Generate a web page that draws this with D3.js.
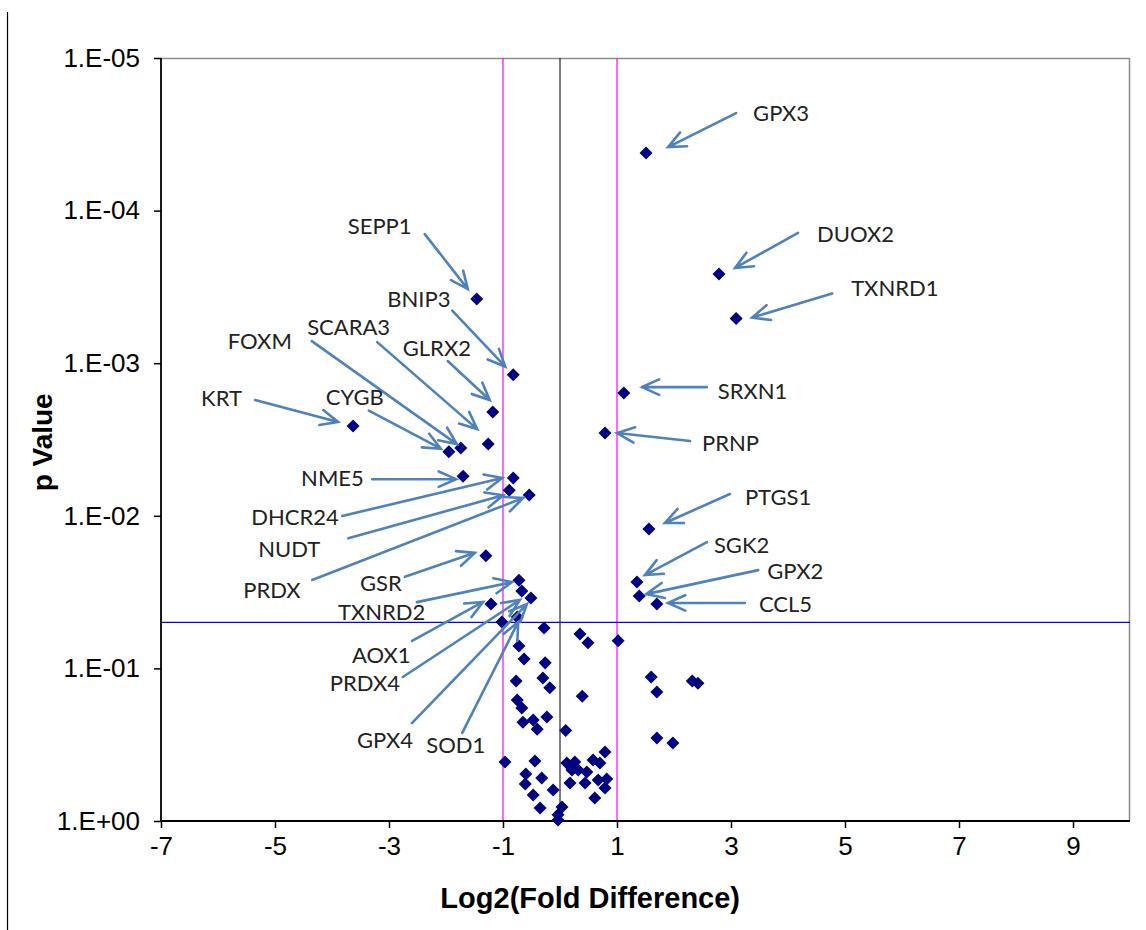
<!DOCTYPE html>
<html>
<head>
<meta charset="utf-8">
<script src="https://cdn.jsdelivr.net/npm/d3@7"></script>
<style>
  body { margin: 0; background: #fff; }
  svg { display: block; }
</style>
</head>
<body>
<svg id="viz"></svg>
<script>
// labelled genes: log2 fold difference and p value
const genes = ['GPX3', 'DUOX2', 'TXNRD1', 'SEPP1', 'BNIP3', 'SRXN1', 'PRNP', 'GLRX2', 'SCARA3',
  'FOXM', 'CYGB', 'KRT', 'NME5', 'DHCR24', 'NUDT', 'PRDX', 'GSR', 'TXNRD2', 'PRDX4', 'GPX4',
  'AOX1', 'SOD1', 'PTGS1', 'SGK2', 'GPX2', 'CCL5'];
const geneFC = [1.51, 2.79, 3.09, -1.46, -0.82, 1.12, 0.79, -1.18, -1.26,
  -1.74, -1.95, -3.63, -1.70, -0.82, -0.89, -0.54, -1.30, -0.72, -0.67, -0.51,
  -1.21, -0.75, 1.56, 1.35, 1.39, 1.70];
const geneP = [4.2e-5, 2.6e-4, 5.1e-4, 3.8e-4, 1.19e-3, 1.57e-3, 2.87e-3, 2.09e-3, 3.39e-3,
  3.6e-3, 3.8e-3, 2.58e-3, 5.5e-3, 5.65e-3, 6.8e-3, 7.3e-3, 0.0183, 0.0264, 0.0311, 0.0346,
  0.0378, 0.046, 0.0122, 0.0272, 0.0336, 0.0378];

// the other genes (not labelled)
const otherFC = [-1.02, -0.28, 0.35, 0.49, 1.02, -0.72, -0.63, -0.26, -0.30, -0.77, -0.18, 0.39,
  -0.75, -0.67, -0.23, -0.65, -0.47, -0.40, 0.10, -0.965, -0.44, -0.60, -0.61, -0.32, -0.47,
  -0.12, -0.35, 0.035, -0.035, -0.035, 0.12, 0.26, 0.21, 0.32, 0.175, 0.47, 0.58, 0.70, 0.79,
  0.44, 0.67, 0.82, 0.79, 0.61, 1.60, 1.70, 2.32, 2.42, 1.70, 1.98];
const otherP = [0.0497, 0.0543, 0.0595, 0.068, 0.066, 0.0713, 0.0868, 0.092, 0.1156, 0.121, 0.134, 0.152,
  0.161, 0.182, 0.208, 0.225, 0.218, 0.25, 0.255, 0.41, 0.405, 0.492, 0.572, 0.523, 0.676,
  0.626, 0.822, 0.81, 0.91, 0.985, 0.417, 0.41, 0.463, 0.463, 0.564, 0.477, 0.398, 0.417, 0.353,
  0.564, 0.539, 0.53, 0.608, 0.707, 0.114, 0.143, 0.121, 0.125, 0.286, 0.308];

const xTicks = [-7, -5, -3, -1, 1, 3, 5, 7, 9];
const yTicks = [1, 0.1, 0.01, 0.001, 0.0001, 0.00001];
const yTickLabels = ['1.E+00', '1.E-01', '1.E-02', '1.E-03', '1.E-04', '1.E-05'];
const pCutoff = 0.05;
const fcCutoffs = [-1, 1];

// label placement, pixel offsets from the gene's point: [text dx, dy, arrow start dx, dy, arrow tip dx, dy]
const labelOffsets = [
  [107, -40, 90, -40, 22, -6],
  [98, -40, 79, -41, 16, -6],
  [115, -30, 96, -25, 16, -1],
  [-129, -73, -52, -65, -9, -10],
  [-126, -76, -61, -64, -8, -8],
  [94, -2, 83, -6, 18, -6],
  [97, 10, 85, 8, 12, 0],
  [-90, -64, -45, -51, -3, -12],
  [-181, -117, -111, -102, -11, -15],
  [-233, -107, -149, -107, -4, -4],
  [-123, -55, -80, -41, -8, -3],
  [-152, -28, -98, -26, -15, -4],
  [-162, 2, -91, 3, -7, 3],
  [-262, 39, -171, 38, -11, 0],
  [-251, 59, -161, 48, -6, 5],
  [-286, 95, -217, 85, -6, 3],
  [-126, 27, -81, 21, -11, -3],
  [-181, 32, -102, 22, -7, 2],
  [-192, 92, -119, 86, -2, 9],
  [-174, 142, -119, 125, -4, 6],
  [-139, 51, -79, 37, -8, -2],
  [-91, 128, -55, 116, 1, 5],
  [96, -32, 81, -35, 16, -6],
  [77, -37, 70, -40, 8, -7],
  [128, -25, 119, -26, 7, -2],
  [102, 0, 88, -1, 11, -1]
];

const margin = { top: 58, right: 16, bottom: 109, left: 161 };
const width = 1146 - margin.left - margin.right;
const height = 930 - margin.top - margin.bottom;

const svg = d3.select('#viz').attr('width', 1146).attr('height', 930);

// page border line on the left
svg.append('line')
  .attr('x1', 7.5).attr('x2', 7.5).attr('y1', 12).attr('y2', 930)
  .attr('stroke', '#000').attr('stroke-width', 1.2);

const g = svg.append('g').attr('transform', 'translate(' + margin.left + ',' + margin.top + ')');

// SCALES
const x = d3.scaleLinear().domain([-7, 10]).range([0, width]);
const y = d3.scaleLog().domain([1, 1e-5]).range([height, 0]);

// frame (grey top/right)
g.append('path')
  .attr('d', `M0,0.5H${width - 0.5}V${height}`)
  .attr('fill', 'none').attr('stroke', '#8c8c8c').attr('stroke-width', 1.5);

// reference lines
g.append('line')
  .attr('x1', x(0)).attr('x2', x(0)).attr('y1', 0).attr('y2', height)
  .attr('stroke', '#000').attr('stroke-width', 1);
g.selectAll('.fc-line').data(fcCutoffs).enter().append('line')
  .attr('x1', (d) => x(d)).attr('x2', (d) => x(d)).attr('y1', 0).attr('y2', height)
  .attr('stroke', '#ff00ff').attr('stroke-width', 1.2);
g.append('line')
  .attr('x1', 0).attr('x2', width).attr('y1', y(pCutoff)).attr('y2', y(pCutoff))
  .attr('stroke', '#0000ff').attr('stroke-width', 1.2);

// AXES
const xAxis = g.append('g')
  .attr('transform', 'translate(0,' + height + ')')
  .call(d3.axisBottom(x).tickValues(xTicks).tickSize(7).tickPadding(9).tickFormat((d) => String(d)));
const yAxis = g.append('g')
  .call(d3.axisLeft(y).tickValues(yTicks).tickSize(7).tickPadding(14)
    .tickFormat((d, i) => yTickLabels[i]));
[xAxis, yAxis].forEach((a) => {
  a.select('.domain').attr('stroke', '#000').attr('stroke-width', 1.8);
  a.selectAll('.tick line').attr('stroke', '#000').attr('stroke-width', 1.5);
  a.selectAll('.tick text')
    .attr('fill', '#000')
    .style('font-family', '"Liberation Sans", Arial, sans-serif')
    .style('font-size', '26px');
});
xAxis.select('.domain').attr('d', `M0,0H${width}`);
yAxis.select('.domain').attr('d', `M0,0V${height}`);

// LABELS
g.append('text')
  .attr('x', x(0.53)).attr('y', height + 87)
  .attr('text-anchor', 'middle')
  .style('font-family', '"Liberation Sans", Arial, sans-serif')
  .style('font-size', '29px').style('font-weight', 'bold')
  .text('Log2(Fold Difference)');
g.append('text')
  .attr('transform', 'rotate(-90)')
  .attr('x', -(y(0.0033)))
  .attr('y', -119)
  .attr('dy', '0.35em')
  .attr('text-anchor', 'middle')
  .style('font-family', '"Liberation Sans", Arial, sans-serif')
  .style('font-size', '28px').style('font-weight', 'bold')
  .text('p Value');

// DATA
const points = otherFC.map((d, i) => ({ fc: d, p: otherP[i] }))
  .concat(genes.map((name, i) => ({ fc: geneFC[i], p: geneP[i], name })));

g.append('g').selectAll('rect').data(points).enter().append('rect')
  .attr('x', -4.6).attr('y', -4.6).attr('width', 9.2).attr('height', 9.2)
  .attr('transform', (d) => `translate(${x(d.fc)},${y(d.p)}) rotate(45)`)
  .attr('fill', '#000080');

// ANNOTATIONS
const ann = g.append('g');
const arrowColor = '#4f81bd';
genes.forEach((name, i) => {
  const px = x(geneFC[i]);
  const py = y(geneP[i]);
  const o = labelOffsets[i];
  const sx = px + o[2], sy = py + o[3];
  const ex = px + o[4], ey = py + o[5];
  const ang = Math.atan2(ey - sy, ex - sx);
  const L = 19, spread = Math.PI / 7.5;
  const h1 = [ex - L * Math.cos(ang - spread), ey - L * Math.sin(ang - spread)];
  const h2 = [ex - L * Math.cos(ang + spread), ey - L * Math.sin(ang + spread)];
  ann.append('path')
    .attr('d', `M${sx},${sy}L${ex},${ey}M${h1[0]},${h1[1]}L${ex},${ey}L${h2[0]},${h2[1]}`)
    .attr('fill', 'none')
    .attr('stroke', arrowColor)
    .attr('stroke-width', 2.6)
    .attr('stroke-linecap', 'round')
    .attr('stroke-linejoin', 'miter');
  ann.append('text')
    .attr('x', px + o[0]).attr('y', py + o[1])
    .attr('dy', '0.36em')
    .attr('fill', '#222')
    .style('font-family', 'Lato, "Open Sans", sans-serif')
    .style('font-size', '22px')
    .text(name);
});
</script>
</body>
</html>
